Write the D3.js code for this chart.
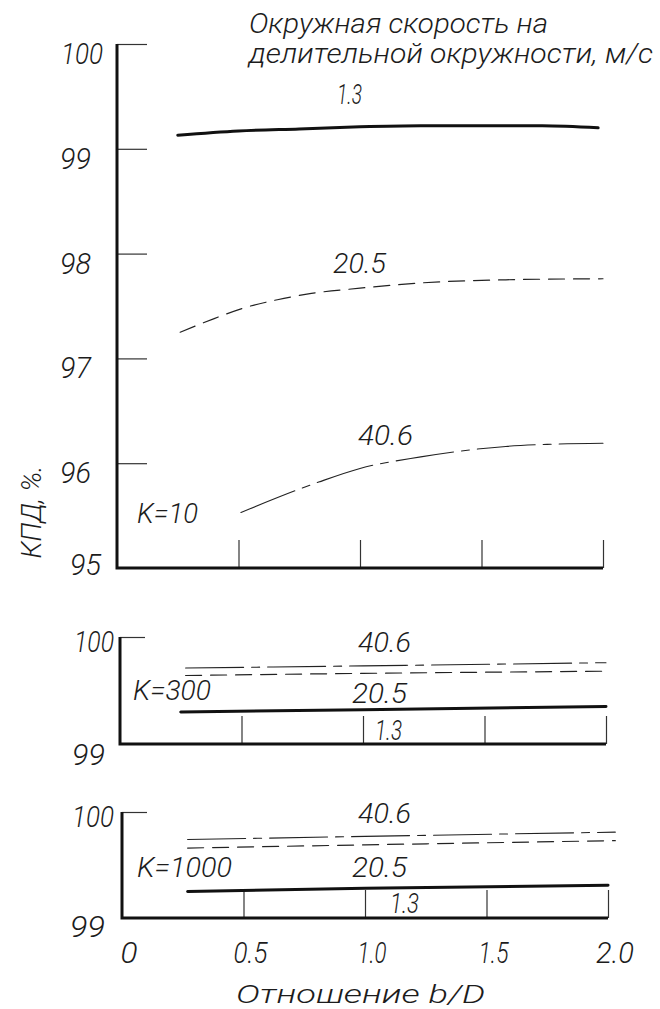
<!DOCTYPE html>
<html>
<head>
<meta charset="utf-8">
<script src="https://cdnjs.cloudflare.com/ajax/libs/d3/7.8.5/d3.min.js"></script>
<style>
  body { margin: 0; background: #fff; }
  text { font-family: Roboto, 'DejaVu Sans', sans-serif; font-style: italic; font-weight: 300; fill: #1c1c1c; }
</style>
</head>
<body>
<svg width="660" height="1009"></svg>
<script>
// b/D ratio ticks
var ratioTicks = [0, 0.5, 1.0, 1.5, 2.0];
var ratioTickLabels = ['0', '0.5', '1.0', '1.5', '2.0'];

// peripheral speed on pitch circle, m/s
var speeds = ['1.3', '20.5', '40.6'];

// K = 10
var k10Ticks = [95, 96, 97, 98, 99, 100];
var k10Speed13 = [[0.25, 99.13], [0.5, 99.17], [0.75, 99.19], [1.0, 99.21], [1.25, 99.22], [1.5, 99.22], [1.75, 99.22], [1.98, 99.2]];
var k10Speed205 = [[0.26, 97.25], [0.4, 97.38], [0.52, 97.48], [0.66, 97.56], [0.8, 97.62], [1.0, 97.67], [1.25, 97.72], [1.6, 97.75], [2.0, 97.76]];
var k10Speed406 = [[0.51, 95.53], [0.83, 95.82], [1.0, 95.95], [1.25, 96.06], [1.6, 96.16], [1.77, 96.18], [2.0, 96.19]];

// K = 300
var k300Ticks = [99, 100];
var k300Speed13 = [[0.25, 99.30], [1.0, 99.32], [2.0, 99.35]];
var k300Speed205 = [[0.27, 99.64], [1.0, 99.66], [2.0, 99.68]];
var k300Speed406 = [[0.27, 99.71], [1.0, 99.73], [2.0, 99.76]];

// K = 1000
var k1000Ticks = [99, 100];
var k1000Speed13 = [[0.27, 99.25], [1.0, 99.28], [2.0, 99.31]];
var k1000Speed205 = [[0.27, 99.66], [1.0, 99.69], [2.03, 99.73]];
var k1000Speed406 = [[0.27, 99.74], [1.0, 99.77], [2.03, 99.81]];

var svg = d3.select('svg');

// line styles for 1.3 / 20.5 / 40.6
var styles = [
  { width: 3, dash: null, color: '#111' },
  { width: 1.2, dash: '16,9', color: '#222' },
  { width: 1.1, dash: '58,8,8,8', color: '#222' }
];

// panel layout (pixels), label placement
var panels = [
  {
    key: 'K=10', x0: 117, x2: 603, yTop: 44, yBot: 568, domain: [95, 100], ticks: k10Ticks,
    series: [k10Speed13, k10Speed205, k10Speed406], tickLen: 30,
    yLabel: function (v) { return v === 95 ? { dx: -47, dy: 7, w: 31 } : v === 100 ? { dx: -56, dy: 20, w: 42 } : { dx: -57, dy: 20, w: 31 }; },
    labels: [
      { t: '1.3', x: 337, y: 104, w: 25 },
      { t: '20.5', x: 333, y: 273, w: 53 },
      { t: '40.6', x: 358, y: 445, w: 55 },
      { t: 'K=10', x: 137, y: 523, w: 61 }
    ]
  },
  {
    key: 'K=300', x0: 120, x2: 606, yTop: 637, yBot: 744, domain: [99, 100], ticks: k300Ticks,
    series: [k300Speed13, k300Speed205, k300Speed406], tickLen: 25,
    yLabel: function (v) { return v === 100 ? { dx: -46, dy: 15, w: 40 } : { dx: -48, dy: 21, w: 33 }; },
    labels: [
      { t: '40.6', x: 358, y: 652, w: 53 },
      { t: 'K=300', x: 133, y: 700, w: 78 },
      { t: '20.5', x: 352, y: 703, w: 55 },
      { t: '1.3', x: 375, y: 740, w: 27 }
    ]
  },
  {
    key: 'K=1000', x0: 122, x2: 608, yTop: 812, yBot: 918, domain: [99, 100], ticks: k1000Ticks,
    series: [k1000Speed13, k1000Speed205, k1000Speed406], tickLen: 25,
    yLabel: function (v) { return v === 100 ? { dx: -50, dy: 15, w: 42 } : { dx: -52, dy: 19, w: 35 }; },
    labels: [
      { t: '40.6', x: 358, y: 823, w: 53 },
      { t: 'K=1000', x: 137, y: 877, w: 95 },
      { t: '20.5', x: 352, y: 877, w: 55 },
      { t: '1.3', x: 390, y: 913, w: 29 }
    ]
  }
];

function label(sel, txt, x, y, w, size) {
  return sel.append('text')
    .attr('x', x)
    .attr('y', y)
    .attr('font-size', size || 28)
    .attr('textLength', w)
    .attr('lengthAdjust', 'spacingAndGlyphs')
    .text(txt);
}

var lastX;

panels.forEach(function (p) {
  var x = d3.scaleLinear().domain([0, 2]).range([p.x0, p.x2]);
  var y = d3.scaleLinear().domain(p.domain).range([p.yBot, p.yTop]);
  var g = svg.append('g').attr('class', 'panel');

  // inner y ticks
  g.append('g')
    .attr('transform', 'translate(' + p.x0 + ',0)')
    .attr('color', '#333')
    .call(d3.axisRight(y).tickValues(p.ticks.filter(function (v) { return v !== p.domain[0]; }))
      .tickSize(p.tickLen).tickFormat(''))
    .call(function (a) { a.select('.domain').remove(); a.selectAll('line').attr('stroke-width', 1.2); });

  // inner x ticks
  g.append('g')
    .attr('transform', 'translate(0,' + p.yBot + ')')
    .attr('color', '#333')
    .call(d3.axisTop(x).tickValues(ratioTicks.slice(1)).tickSize(28).tickFormat(''))
    .call(function (a) { a.select('.domain').remove(); a.selectAll('line').attr('stroke-width', 1.2); });

  // heavy axis lines
  g.append('path')
    .attr('d', 'M' + p.x0 + ',' + y(p.domain[1]) + 'V' + y(p.domain[0]) + 'H' + x(2))
    .attr('fill', 'none')
    .attr('stroke', '#111')
    .attr('stroke-width', 3);

  // y tick labels
  p.ticks.forEach(function (v) {
    var l = p.yLabel(v);
    label(g, String(v), p.x0 + l.dx, y(v) + l.dy, l.w, 29);
  });

  // curves
  var line = d3.line()
    .x(function (d) { return x(d[0]); })
    .y(function (d) { return y(d[1]); })
    .curve(d3.curveMonotoneX);

  p.series.forEach(function (s, i) {
    g.append('path')
      .datum(s)
      .attr('class', 'speed-' + speeds[i])
      .attr('d', line)
      .attr('fill', 'none')
      .attr('stroke', styles[i].color)
      .attr('stroke-width', styles[i].width)
      .attr('stroke-dasharray', styles[i].dash)
      .attr('stroke-linecap', 'round');
  });

  p.labels.forEach(function (l) {
    label(g, l.t, l.x, l.y, l.w, 28);
  });

  lastX = x;
});

// x tick labels under the last panel
var xLabelWidths = [17, 34, 29, 30, 38];
ratioTicks.forEach(function (v, i) {
  label(svg, ratioTickLabels[i], lastX(v) + 7 - xLabelWidths[i] / 2, 963, xLabelWidths[i], 29);
});

// axis titles
label(svg, 'Отношение b/D', 236, 1003, 249, 25);

svg.append('text')
  .attr('transform', 'translate(41,512) rotate(-90)')
  .attr('text-anchor', 'middle')
  .attr('font-size', 28)
  .attr('textLength', 93)
  .attr('lengthAdjust', 'spacingAndGlyphs')
  .text('КПД, %.');

label(svg, 'Окружная скорость на', 249, 33, 299);
label(svg, 'делительной окружности, м/с', 249, 63, 404);
</script>
</body>
</html>
